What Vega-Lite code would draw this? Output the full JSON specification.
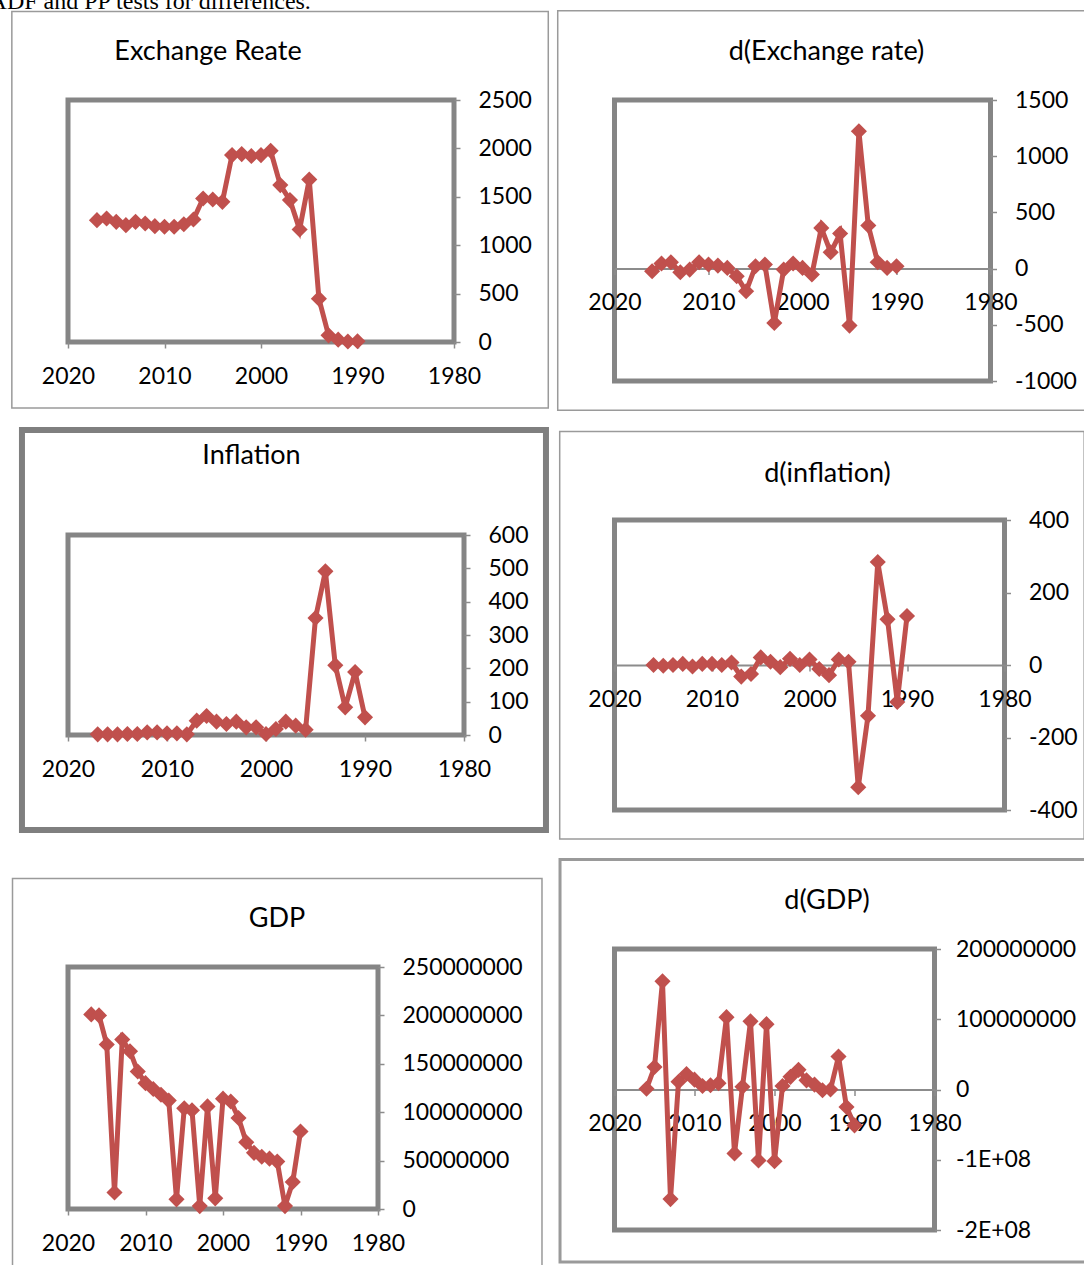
{
  "$schema": "https://vega.github.io/schema/vega-lite/v6.json",
  "padding": {"left": -11, "top": -11, "right": 0, "bottom": 0},
  "background": "white",
  "title": {"text": "ADF and PP tests for differences.", "font": "Liberation Serif", "fontSize": 24, "anchor": "start", "frame": "bounds", "offset": -25, "dx": -19, "baseline": "alphabetic"},
  "datasets": {
    "exch": [
      {"year": 2017, "value": 1259}, {"year": 2016, "value": 1276}, {"year": 2015, "value": 1241},
      {"year": 2014, "value": 1207}, {"year": 2013, "value": 1241}, {"year": 2012, "value": 1224},
      {"year": 2011, "value": 1197}, {"year": 2010, "value": 1190}, {"year": 2009, "value": 1190},
      {"year": 2008, "value": 1217}, {"year": 2007, "value": 1266}, {"year": 2006, "value": 1483},
      {"year": 2005, "value": 1472}, {"year": 2004, "value": 1448}, {"year": 2003, "value": 1931},
      {"year": 2002, "value": 1941}, {"year": 2001, "value": 1921}, {"year": 2000, "value": 1931},
      {"year": 1999, "value": 1976}, {"year": 1998, "value": 1621}, {"year": 1997, "value": 1466},
      {"year": 1996, "value": 1162}, {"year": 1995, "value": 1679}, {"year": 1994, "value": 448},
      {"year": 1993, "value": 69}, {"year": 1992, "value": 24}, {"year": 1991, "value": 5},
      {"year": 1990, "value": 8}
    ],
    "dexch": [
      {"year": 2016, "value": -24}, {"year": 2015, "value": 45}, {"year": 2014, "value": 56},
      {"year": 2013, "value": -33}, {"year": 2012, "value": -9}, {"year": 2011, "value": 56},
      {"year": 2010, "value": 36}, {"year": 2009, "value": 27}, {"year": 2008, "value": 6},
      {"year": 2007, "value": -68}, {"year": 2006, "value": -202}, {"year": 2005, "value": 21},
      {"year": 2004, "value": 36}, {"year": 2003, "value": -484}, {"year": 2002, "value": -9},
      {"year": 2001, "value": 45}, {"year": 2000, "value": 6}, {"year": 1999, "value": -53},
      {"year": 1998, "value": 362}, {"year": 1997, "value": 145}, {"year": 1996, "value": 312},
      {"year": 1995, "value": -507}, {"year": 1994, "value": 1222}, {"year": 1993, "value": 383},
      {"year": 1992, "value": 56}, {"year": 1991, "value": 6}, {"year": 1990, "value": 21}
    ],
    "infl": [
      {"year": 2017, "value": 2}, {"year": 2016, "value": 2}, {"year": 2015, "value": 2},
      {"year": 2014, "value": 3}, {"year": 2013, "value": 3}, {"year": 2012, "value": 8},
      {"year": 2011, "value": 8}, {"year": 2010, "value": 5}, {"year": 2009, "value": 5},
      {"year": 2008, "value": 2}, {"year": 2007, "value": 43}, {"year": 2006, "value": 57},
      {"year": 2005, "value": 40}, {"year": 2004, "value": 33}, {"year": 2003, "value": 40},
      {"year": 2002, "value": 23}, {"year": 2001, "value": 23}, {"year": 2000, "value": 3},
      {"year": 1999, "value": 18}, {"year": 1998, "value": 40}, {"year": 1997, "value": 28},
      {"year": 1996, "value": 16}, {"year": 1995, "value": 351}, {"year": 1994, "value": 491},
      {"year": 1993, "value": 209}, {"year": 1992, "value": 83}, {"year": 1991, "value": 189},
      {"year": 1990, "value": 53}
    ],
    "dinfl": [
      {"year": 2016, "value": 0}, {"year": 2015, "value": -2}, {"year": 2014, "value": 0},
      {"year": 2013, "value": 3}, {"year": 2012, "value": -4}, {"year": 2011, "value": 3},
      {"year": 2010, "value": 3}, {"year": 2009, "value": 0}, {"year": 2008, "value": 7},
      {"year": 2007, "value": -32}, {"year": 2006, "value": -25}, {"year": 2005, "value": 21},
      {"year": 2004, "value": 9}, {"year": 2003, "value": -6}, {"year": 2002, "value": 17},
      {"year": 2001, "value": 0}, {"year": 2000, "value": 15}, {"year": 1999, "value": -11},
      {"year": 1998, "value": -28}, {"year": 1997, "value": 15}, {"year": 1996, "value": 9},
      {"year": 1995, "value": -337}, {"year": 1994, "value": -140}, {"year": 1993, "value": 284},
      {"year": 1992, "value": 126}, {"year": 1991, "value": -102}, {"year": 1990, "value": 135}
    ],
    "gdp": [
      {"year": 2017, "value": 201000000}, {"year": 2016, "value": 200000000}, {"year": 2015, "value": 170000000},
      {"year": 2014, "value": 17000000}, {"year": 2013, "value": 175000000}, {"year": 2012, "value": 163000000},
      {"year": 2011, "value": 142000000}, {"year": 2010, "value": 130000000}, {"year": 2009, "value": 124000000},
      {"year": 2008, "value": 118000000}, {"year": 2007, "value": 112000000}, {"year": 2006, "value": 10000000},
      {"year": 2005, "value": 104000000}, {"year": 2004, "value": 102000000}, {"year": 2003, "value": 3000000},
      {"year": 2002, "value": 106000000}, {"year": 2001, "value": 11000000}, {"year": 2000, "value": 114000000},
      {"year": 1999, "value": 111000000}, {"year": 1998, "value": 94000000}, {"year": 1997, "value": 69000000},
      {"year": 1996, "value": 58000000}, {"year": 1995, "value": 54000000}, {"year": 1994, "value": 52000000},
      {"year": 1993, "value": 49000000}, {"year": 1992, "value": 3000000}, {"year": 1991, "value": 28000000},
      {"year": 1990, "value": 80000000}
    ],
    "dgdp": [
      {"year": 2016, "value": 1000000}, {"year": 2015, "value": 32000000}, {"year": 2014, "value": 154000000},
      {"year": 2013, "value": -156000000}, {"year": 2012, "value": 11000000}, {"year": 2011, "value": 22000000},
      {"year": 2010, "value": 14000000}, {"year": 2009, "value": 5000000}, {"year": 2008, "value": 6000000},
      {"year": 2007, "value": 9000000}, {"year": 2006, "value": 103000000}, {"year": 2005, "value": -91000000},
      {"year": 2004, "value": 4000000}, {"year": 2003, "value": 97000000}, {"year": 2002, "value": -101000000},
      {"year": 2001, "value": 93000000}, {"year": 2000, "value": -102000000}, {"year": 1999, "value": 5000000},
      {"year": 1998, "value": 18000000}, {"year": 1997, "value": 28000000}, {"year": 1996, "value": 13000000},
      {"year": 1995, "value": 7000000}, {"year": 1994, "value": -1000000}, {"year": 1993, "value": 0},
      {"year": 1992, "value": 47000000}, {"year": 1991, "value": -25000000}, {"year": 1990, "value": -51000000}
    ]
  },
  "spacing": 1.5,
  "hconcat": [
    {
      "spacing": 12,
      "vconcat": [
        {
          "width": 386, "height": 242,
          "view": {"stroke": "#858585", "strokeWidth": 5},
          "title": {"text": "Exchange Reate", "dx": -53, "offset": -55},
          "data": {"name": "exch"},
          "encoding": {
            "x": {"field": "year", "type": "quantitative", "title": null,
                  "scale": {"domain": [1980, 2020], "reverse": true, "nice": false, "zero": false},
                  "axis": {"values": [2020, 2010, 2000, 1990, 1980], "format": "d", "labelFlush": false}},
            "y": {"field": "value", "type": "quantitative", "title": null,
                  "scale": {"domain": [0, 2500], "nice": false, "zero": false},
                  "axis": {"orient": "right", "values": [0, 500, 1000, 1500, 2000, 2500], "labelExpr": "'' + datum.value"}}
          },
          "layer": [
            {"transform": [{"filter": {"field": "year", "equal": 1990}}],
             "mark": {"type": "rect", "filled": false, "stroke": "#9a9a9a", "strokeWidth": 1.5},
             "encoding": {"x": {"datum": 2025.82, "type": "quantitative"}, "x2": {"datum": 1970.23}, "y": {"datum": 3414, "type": "quantitative"}, "y2": {"datum": -682}}},
            {"mark": {"type": "line", "color": "#C0504D", "strokeWidth": 5}},
            {"mark": {"type": "point", "shape": "diamond", "filled": true, "size": 260, "color": "#C0504D", "opacity": 1}}
          ]
        },
        {
          "spacing": 39,
          "vconcat": [
            {
              "width": 396, "height": 200,
              "view": {"stroke": "#858585", "strokeWidth": 5},
              "title": {"text": "Inflation", "dx": -14.5, "offset": -43},
              "data": {"name": "infl"},
              "encoding": {
                "x": {"field": "year", "type": "quantitative", "title": null,
                      "scale": {"domain": [1980, 2020], "reverse": true, "nice": false, "zero": false},
                      "axis": {"values": [2020, 2010, 2000, 1990, 1980], "format": "d", "labelFlush": false}},
                "y": {"field": "value", "type": "quantitative", "title": null,
                      "scale": {"domain": [0, 600], "nice": false, "zero": false},
                      "axis": {"orient": "right", "values": [0, 100, 200, 300, 400, 500, 600], "labelExpr": "'' + datum.value"}}
              },
              "layer": [
                {"transform": [{"filter": {"field": "year", "equal": 1990}}],
                 "mark": {"type": "rect", "filled": false, "stroke": "#7f7f7f", "strokeWidth": 6},
                 "encoding": {"x": {"datum": 2024.65, "type": "quantitative"}, "x2": {"datum": 1971.72}, "y": {"datum": 915, "type": "quantitative"}, "y2": {"datum": -285}}},
                {"mark": {"type": "line", "color": "#C0504D", "strokeWidth": 5}},
                {"mark": {"type": "point", "shape": "diamond", "filled": true, "size": 260, "color": "#C0504D", "opacity": 1}}
              ]
            },
            {
              "width": 310, "height": 242,
              "view": {"stroke": "#858585", "strokeWidth": 5},
              "title": {"text": "GDP", "dx": 54, "offset": -55},
              "data": {"name": "gdp"},
              "encoding": {
                "x": {"field": "year", "type": "quantitative", "title": null,
                      "scale": {"domain": [1980, 2020], "reverse": true, "nice": false, "zero": false},
                      "axis": {"values": [2020, 2010, 2000, 1990, 1980], "format": "d", "labelFlush": false}},
                "y": {"field": "value", "type": "quantitative", "title": null,
                      "scale": {"domain": [0, 250000000], "nice": false, "zero": false},
                      "axis": {"orient": "right", "values": [0, 50000000, 100000000, 150000000, 200000000, 250000000], "labelExpr": "'' + datum.value"}}
              },
              "layer": [
                {"transform": [{"filter": {"field": "year", "equal": 1990}}],
                 "mark": {"type": "rect", "filled": false, "stroke": "#9a9a9a", "strokeWidth": 1.5},
                 "encoding": {"x": {"datum": 2027.16, "type": "quantitative"}, "x2": {"datum": 1958.84}, "y": {"datum": 341400000, "type": "quantitative"}, "y2": {"datum": -66000000}}},
                {"mark": {"type": "line", "color": "#C0504D", "strokeWidth": 5}},
                {"mark": {"type": "point", "shape": "diamond", "filled": true, "size": 260, "color": "#C0504D", "opacity": 1}}
              ]
            }
          ]
        }
      ]
    },
    {
      "spacing": 14,
      "vconcat": [
        {
          "width": 376, "height": 281,
          "view": {"stroke": "#858585", "strokeWidth": 5},
          "title": {"text": "d(Exchange rate)", "dx": 24, "offset": -56},
          "data": {"name": "dexch"},
          "encoding": {
            "x": {"field": "year", "type": "quantitative", "title": null,
                  "scale": {"domain": [1980, 2020], "reverse": true, "nice": false, "zero": false},
                  "axis": {"values": [2020, 2010, 2000, 1990, 1980], "format": "d", "labelFlush": false, "offset": -112.4, "domain": true, "domainColor": "#8c8c8c", "domainWidth": 2}},
            "y": {"field": "value", "type": "quantitative", "title": null,
                  "scale": {"domain": [-1000, 1500], "nice": false, "zero": false},
                  "axis": {"orient": "right", "values": [-1000, -500, 0, 500, 1000, 1500], "labelExpr": "'' + datum.value", "labelPadding": 18}}
          },
          "layer": [
            {"transform": [{"filter": {"field": "year", "equal": 1990}}],
             "mark": {"type": "rect", "filled": false, "stroke": "#9a9a9a", "strokeWidth": 1.5},
             "encoding": {"x": {"datum": 2026.04, "type": "quantitative"}, "x2": {"datum": 1969.5}, "y": {"datum": 2294, "type": "quantitative"}, "y2": {"datum": -1261}}},
            {"mark": {"type": "line", "color": "#C0504D", "strokeWidth": 5}},
            {"mark": {"type": "point", "shape": "diamond", "filled": true, "size": 260, "color": "#C0504D", "opacity": 1}}
          ]
        },
        {
          "spacing": 12,
          "vconcat": [
            {
              "width": 390, "height": 290,
              "view": {"stroke": "#858585", "strokeWidth": 5},
              "title": {"text": "d(inflation)", "dx": 18, "offset": -57},
              "data": {"name": "dinfl"},
              "encoding": {
                "x": {"field": "year", "type": "quantitative", "title": null,
                      "scale": {"domain": [1980, 2020], "reverse": true, "nice": false, "zero": false},
                      "axis": {"values": [2020, 2010, 2000, 1990, 1980], "format": "d", "labelFlush": false, "offset": -145, "domain": true, "domainColor": "#8c8c8c", "domainWidth": 2}},
                "y": {"field": "value", "type": "quantitative", "title": null,
                      "scale": {"domain": [-400, 400], "nice": false, "zero": false},
                      "axis": {"orient": "right", "values": [-400, -200, 0, 200, 400], "labelExpr": "'' + datum.value"}}
              },
              "layer": [
                {"transform": [{"filter": {"field": "year", "equal": 1990}}],
                 "mark": {"type": "rect", "filled": false, "stroke": "#9a9a9a", "strokeWidth": 1.5},
                 "encoding": {"x": {"datum": 2025.62, "type": "quantitative"}, "x2": {"datum": 1971.83}, "y": {"datum": 644, "type": "quantitative"}, "y2": {"datum": -480}}},
                {"mark": {"type": "line", "color": "#C0504D", "strokeWidth": 5}},
                {"mark": {"type": "point", "shape": "diamond", "filled": true, "size": 260, "color": "#C0504D", "opacity": 1}}
              ]
            },
            {
              "width": 320, "height": 281,
              "view": {"stroke": "#858585", "strokeWidth": 5},
              "title": {"text": "d(GDP)", "dx": 52.5, "offset": -57},
              "data": {"name": "dgdp"},
              "encoding": {
                "x": {"field": "year", "type": "quantitative", "title": null,
                      "scale": {"domain": [1980, 2020], "reverse": true, "nice": false, "zero": false},
                      "axis": {"values": [2020, 2010, 2000, 1990, 1980], "format": "d", "labelFlush": false, "offset": -140.5, "domain": true, "domainColor": "#8c8c8c", "domainWidth": 2}},
                "y": {"field": "value", "type": "quantitative", "title": null,
                      "scale": {"domain": [-200000000, 200000000], "nice": false, "zero": false},
                      "axis": {"orient": "right", "values": [-200000000, -100000000, 0, 100000000, 200000000], "labelExpr": "datum.value < 0 ? (datum.value / 100000000) + 'E+08' : '' + datum.value", "labelPadding": 15}}
              },
              "layer": [
                {"transform": [{"filter": {"field": "year", "equal": 1990}}],
                 "mark": {"type": "rect", "filled": false, "stroke": "#9a9a9a", "strokeWidth": 3},
                 "encoding": {"x": {"datum": 2026.81, "type": "quantitative"}, "x2": {"datum": 1960.38}, "y": {"datum": 327400000, "type": "quantitative"}, "y2": {"datum": -245600000}}},
                {"mark": {"type": "line", "color": "#C0504D", "strokeWidth": 5}},
                {"mark": {"type": "point", "shape": "diamond", "filled": true, "size": 260, "color": "#C0504D", "opacity": 1}}
              ]
            }
          ]
        }
      ]
    }
  ],
  "config": {
    "font": "Lato",
    "axis": {
      "labelFont": "Lato", "labelFontSize": 23, "labelColor": "#000000",
      "tickColor": "#8c8c8c", "tickSize": 6, "tickWidth": 1.5,
      "grid": false, "domain": false, "labelPadding": 17
    },
    "axisY": {"labelPadding": 18, "labelBaseline": "middle"},
    "title": {"font": "Lato", "fontSize": 27, "fontWeight": "normal", "color": "#000000", "frame": "group", "anchor": "middle", "baseline": "alphabetic"}
  }
}
